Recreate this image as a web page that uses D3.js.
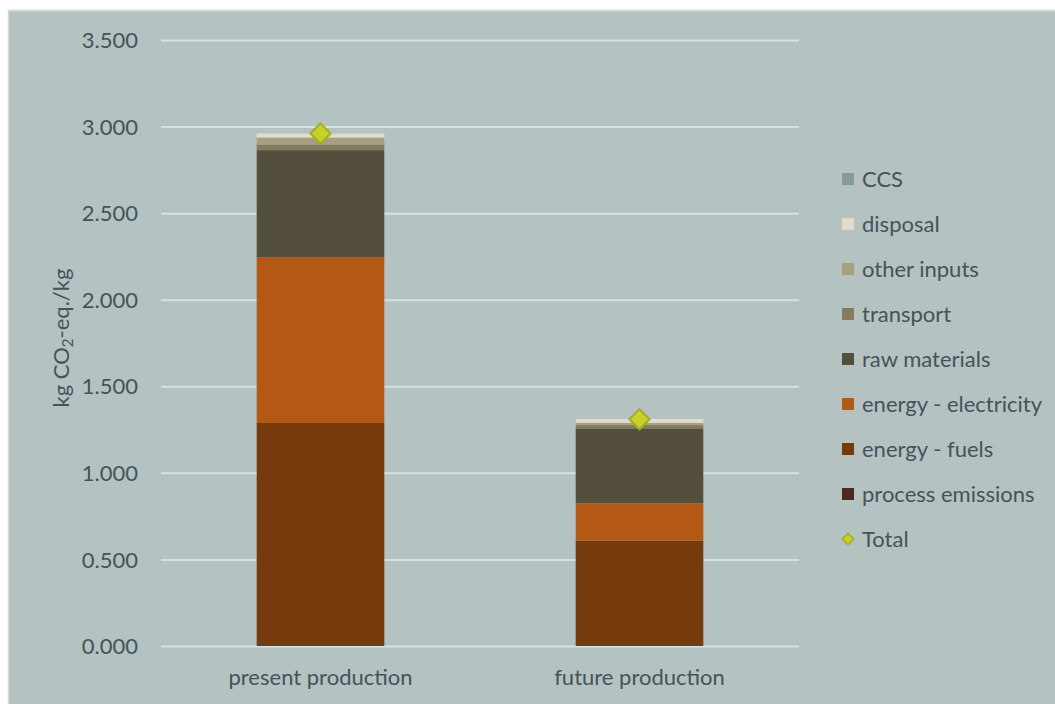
<!DOCTYPE html>
<html><head><meta charset="utf-8">
<script src="https://cdn.jsdelivr.net/npm/d3@7"></script>
<style>body{margin:0;background:#fff}svg{display:block}text{font-family:Lato,"Open Sans",sans-serif;fill:#44545a}</style>
</head><body><svg id="c" width="1055" height="704"></svg>
<script>
const categories = ["present production", "future production"];
const seriesNames = ["process emissions", "energy - fuels", "energy - electricity", "raw materials", "transport", "other inputs", "disposal", "CCS"];
const processEmissions = [0, 0];
const energyFuels = [1.288, 0.608];
const energyElectricity = [0.956, 0.216];
const rawMaterials = [0.620, 0.433];
const transport = [0.033, 0.019];
const otherInputs = [0.040, 0.013];
const disposal = [0.023, 0.022];
const ccs = [0, 0];
const totals = [2.96, 1.31];
const yTicks = [0, 0.5, 1.0, 1.5, 2.0, 2.5, 3.0, 3.5];
const colors = ["#4b2a22", "#763b0d", "#b35815", "#544e3c", "#857b5f", "#a89f80", "#e0ddd0", "#869b9b"];

const seriesValues = [processEmissions, energyFuels, energyElectricity, rawMaterials, transport, otherInputs, disposal, ccs];
const rows = categories.map((c, i) => {
  const r = {cat: c};
  seriesNames.forEach((s, j) => r[s] = seriesValues[j][i]);
  return r;
});

const svg = d3.select("#c");
svg.append("rect").attr("x", 8).attr("y", 10).attr("width", 1047).attr("height", 694).attr("fill", "#b4c2c1");
svg.append("line").attr("x1", 8).attr("x2", 1055).attr("y1", 10.5).attr("y2", 10.5).attr("stroke", "#cfd9da").attr("stroke-width", 2);
svg.append("line").attr("x1", 8.5).attr("x2", 8.5).attr("y1", 10).attr("y2", 704).attr("stroke", "#cfd9da").attr("stroke-width", 1.5);

const x = d3.scaleBand().domain(categories).range([161, 799]).paddingInner(0.6).paddingOuter(0.3);
const y = d3.scaleLinear().domain([0, 3.5]).range([646, 40]);

// gridlines
const grid = svg.append("g").attr("transform", "translate(161,0)")
  .call(d3.axisLeft(y).tickValues(yTicks).tickSize(-638).tickFormat(""));
grid.select(".domain").remove();
grid.selectAll("line").attr("stroke", "#d6e1e4").attr("stroke-width", 2);

// y labels
const ya = svg.append("g").attr("transform", "translate(138,0)")
  .call(d3.axisLeft(y).tickValues(yTicks).tickSize(0).tickPadding(0).tickFormat(d => d3.format(".3f")(d)));
ya.select(".domain").remove();
ya.selectAll("text").attr("font-size", 22).attr("fill", "#44545a").attr("font-family", "Lato").attr("dy", "0.35em");

// x labels
const xa = svg.append("g").attr("transform", "translate(0,646)")
  .call(d3.axisBottom(x).tickSize(0).tickPadding(31));
xa.select(".domain").remove();
xa.selectAll("text").attr("font-size", 22).attr("fill", "#44545a").attr("font-family", "Lato").attr("dy", "0.35em");

// stacks
const stack = d3.stack().keys(seriesNames)(rows);
svg.append("g").selectAll("g").data(stack).join("g")
  .attr("fill", (d, i) => colors[i])
  .selectAll("rect").data(d => d).join("rect")
  .attr("x", d => x(d.data.cat))
  .attr("width", x.bandwidth())
  .attr("y", d => y(d[1]))
  .attr("height", d => y(d[0]) - y(d[1]));

// totals
const diamond = d3.symbol().type(d3.symbolDiamond2).size(260);
svg.append("g").selectAll("path").data(totals).join("path")
  .attr("d", diamond)
  .attr("transform", (d, i) => `translate(${x(categories[i]) + x.bandwidth() / 2},${y(d)})`)
  .attr("fill", "#c6d22c").attr("stroke", "#a5ae1e").attr("stroke-width", 2);

// y title
const yt = svg.append("text").attr("transform", "translate(69,338) rotate(-90)")
  .attr("text-anchor", "middle").attr("font-size", 22).attr("fill", "#44545a");
yt.append("tspan").text("kg CO");
yt.append("tspan").text("2").attr("font-size", 15).attr("dy", 4);
yt.append("tspan").text("-eq./kg").attr("dy", -4);

// legend
const legendItems = seriesNames.slice().reverse().map(n => ({name: n, color: colors[seriesNames.indexOf(n)]}));
legendItems.push({name: "Total", total: true});
const lg = svg.append("g").selectAll("g").data(legendItems).join("g")
  .attr("transform", (d, i) => `translate(842,${179 + i * 45})`);
lg.filter(d => !d.total).append("rect").attr("x", 0).attr("y", -6).attr("width", 12).attr("height", 12).attr("fill", d => d.color);
lg.filter(d => d.total).append("path").attr("d", d3.symbol().type(d3.symbolDiamond2).size(80)).attr("transform", "translate(6,0)")
  .attr("fill", "#c6d22c").attr("stroke", "#a5ae1e").attr("stroke-width", 1.5);
lg.append("text").attr("x", 20).attr("dy", "0.35em").attr("font-size", 22).attr("fill", "#44545a").text(d => d.name);
</script></body></html>
